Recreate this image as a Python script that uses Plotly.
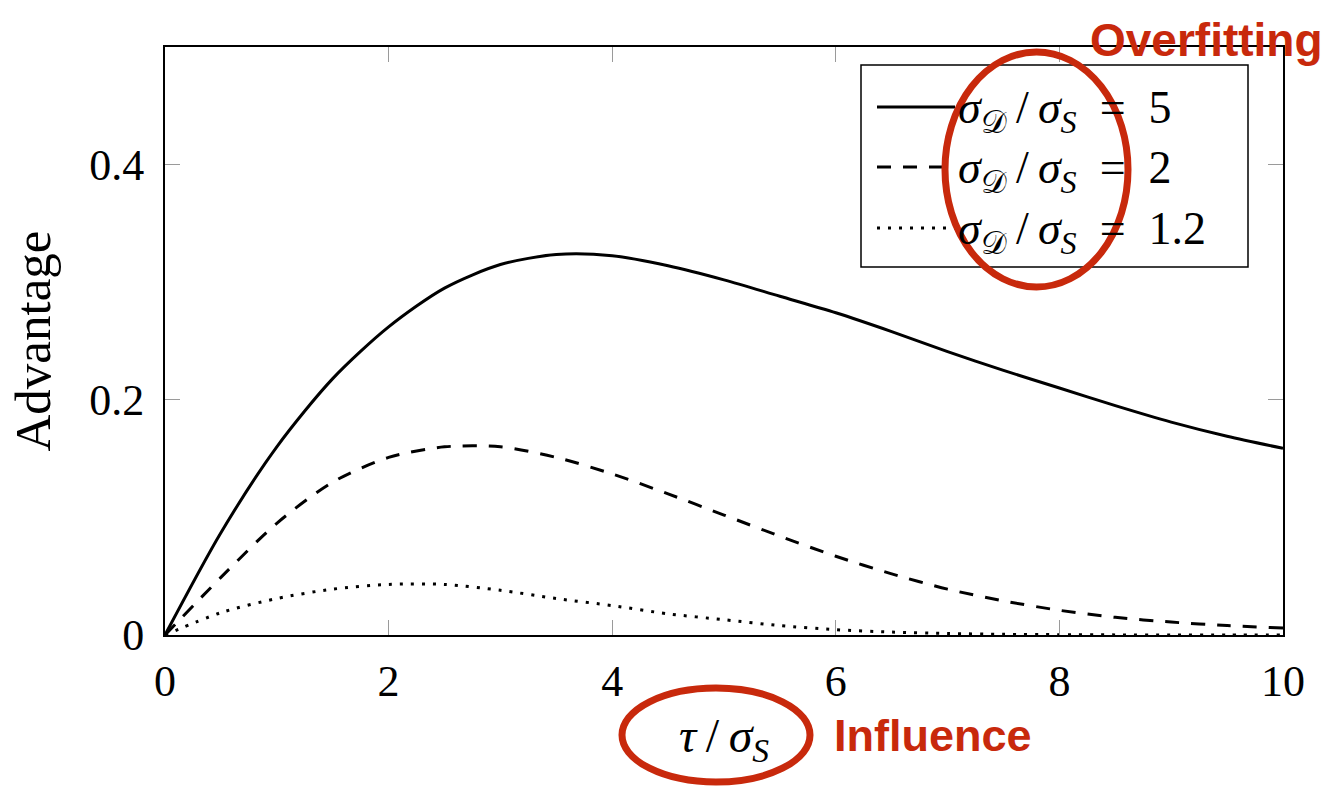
import plotly.graph_objects as go

# tau / sigma_S sample positions
tau = [0, 0.5, 1.0, 1.5, 2.0, 2.5, 3.0, 3.5, 4.0, 4.5, 5.0,
       5.5, 6.0, 6.5, 7.0, 7.5, 8.0, 8.5, 9.0, 9.5, 10.0]

# membership advantage for each sigma_D / sigma_S ratio
adv_ratio_5 = [0.0, 0.087, 0.160, 0.218, 0.262, 0.295, 0.315, 0.3235, 0.3225, 0.314, 0.302,
               0.288, 0.274, 0.258, 0.241, 0.225, 0.210, 0.195, 0.181, 0.169, 0.1587]
adv_ratio_2 = [0.0, 0.049, 0.095, 0.130, 0.151, 0.160, 0.160, 0.151, 0.137, 0.120, 0.102,
               0.084, 0.067, 0.052, 0.039, 0.029, 0.021, 0.015, 0.011, 0.008, 0.006]
adv_ratio_12 = [0.0, 0.019, 0.031, 0.039, 0.043, 0.043, 0.038, 0.031, 0.025, 0.018, 0.013,
                0.008, 0.0045, 0.0025, 0.0013, 0.0006, 0.0003, 0.0001, 0.0, 0.0, 0.0]

THIN = "\u2009"
legend_labels = [
    f"<i>σ</i><sub>𝒟</sub>{THIN}/{THIN}<i>σ</i><sub><i>S</i></sub>&nbsp;&nbsp;=&nbsp;&nbsp;5",
    f"<i>σ</i><sub>𝒟</sub>{THIN}/{THIN}<i>σ</i><sub><i>S</i></sub>&nbsp;&nbsp;=&nbsp;&nbsp;2",
    f"<i>σ</i><sub>𝒟</sub>{THIN}/{THIN}<i>σ</i><sub><i>S</i></sub>&nbsp;&nbsp;=&nbsp;&nbsp;1.2",
]
x_ticks = [0, 2, 4, 6, 8, 10]
y_ticks = [0, 0.2, 0.4]
y_tick_text = ["0", "0.2", "0.4"]

W, H = 1327, 786
ML, MR, MT, MB = 165, 44, 47, 151
PW, PH = W - ML - MR, H - MT - MB


def px(x):
    return (x - ML) / PW


def py(y):
    return (H - MB - y) / PH


SERIF = "Liberation Serif, DejaVu Serif, serif"
HAND = "Liberation Sans, Arial, sans-serif"
RED = "#c8290c"
dashes = ["solid", "14px,12px", "3px,8px"]
series = [adv_ratio_5, adv_ratio_2, adv_ratio_12]

fig = go.Figure()
for vals, dash, name in zip(series, dashes, legend_labels):
    fig.add_trace(go.Scatter(
        x=tau, y=vals, mode="lines", name=name, showlegend=False,
        line=dict(color="black", width=3, dash=dash, shape="spline", smoothing=0.8),
    ))

shapes = []
annotations = []

# legend frame
shapes.append(dict(type="rect", xref="paper", yref="paper",
                   x0=px(861), x1=px(1248), y0=py(267), y1=py(65),
                   line=dict(color="black", width=1.5), fillcolor="white", layer="above"))
row_y = [107, 167, 228]
for ry, dash, label in zip(row_y, dashes, legend_labels):
    shapes.append(dict(type="line", xref="paper", yref="paper",
                       x0=px(877), x1=px(955), y0=py(ry), y1=py(ry),
                       line=dict(color="black", width=3, dash=dash), layer="above"))
    annotations.append(dict(xref="paper", yref="paper", x=px(956), y=py(ry + 4),
                            xanchor="left", yanchor="middle", showarrow=False,
                            text=label, font=dict(family=SERIF, size=46, color="black")))

# red highlight rings
shapes.append(dict(type="circle", xref="paper", yref="paper",
                   x0=px(945), x1=px(1128), y0=py(287), y1=py(52),
                   line=dict(color=RED, width=7), layer="above"))
shapes.append(dict(type="circle", xref="paper", yref="paper",
                   x0=px(622), x1=px(810), y0=py(782), y1=py(688),
                   line=dict(color=RED, width=7), layer="above"))

annotations.append(dict(xref="paper", yref="paper", x=px(1325), y=py(40),
                        xanchor="right", yanchor="middle", showarrow=False,
                        text="<b>Overfitting</b>",
                        font=dict(family=HAND, size=46, color=RED)))
annotations.append(dict(xref="paper", yref="paper", x=px(832), y=py(735),
                        xanchor="left", yanchor="middle", showarrow=False,
                        text="<b>Influence</b>",
                        font=dict(family=HAND, size=45, color=RED)))

fig.update_layout(
    width=W, height=H,
    margin=dict(l=ML, r=MR, t=MT, b=MB),
    paper_bgcolor="white", plot_bgcolor="white",
    font=dict(family=SERIF, size=44, color="black"),
    shapes=shapes, annotations=annotations,
)
fig.update_xaxes(
    range=[0, 10], tickvals=x_ticks, ticktext=[str(t) for t in x_ticks],
    ticks="inside", ticklen=15, tickcolor="#9a9a9a", tickwidth=1,
    showline=True, linecolor="black", linewidth=2, mirror="ticks",
    showgrid=False, zeroline=False, ticklabelstandoff=6,
    title=dict(text=f"<i>τ</i>{THIN}/{THIN}<i>σ</i><sub><i>S</i></sub>",
               font=dict(size=48), standoff=14),
)
fig.update_yaxes(
    range=[0, 0.5], tickvals=y_ticks, ticktext=y_tick_text,
    ticks="inside", ticklen=15, tickcolor="#9a9a9a", tickwidth=1,
    showline=True, linecolor="black", linewidth=2, mirror="ticks",
    showgrid=False, zeroline=False, ticklabelstandoff=10,
    title=dict(text="Advantage", font=dict(size=51), standoff=22),
)

fig.write_html("out.html")
